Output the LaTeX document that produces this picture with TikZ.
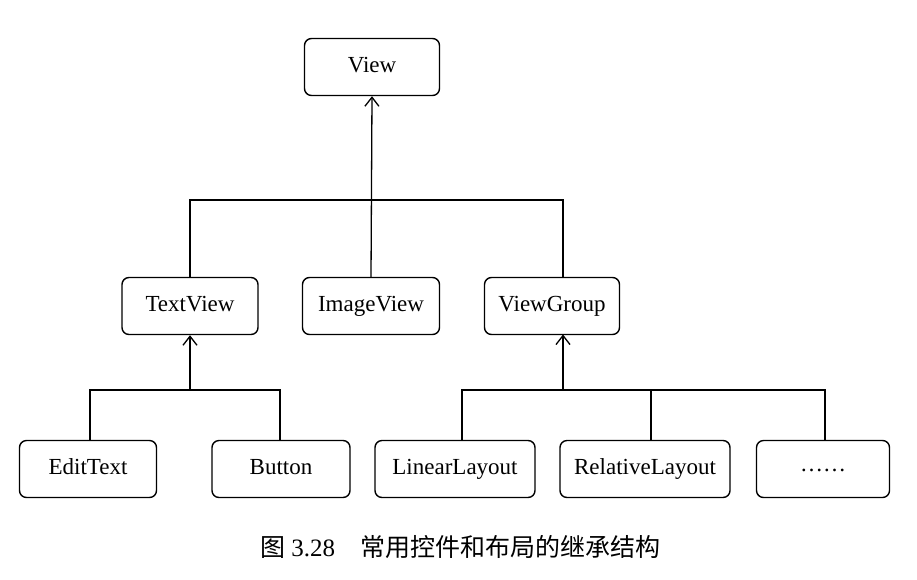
\documentclass[tikz,border=0pt]{standalone}
\usepackage{fontspec}
\setmainfont{Liberation Serif}
\newfontfamily\cjk{Noto Sans CJK SC}
\usetikzlibrary{arrows.meta}
\begin{document}
\begin{tikzpicture}[x=1pt,y=-1pt,
  cls/.style={draw,line width=1.4pt,rounded corners=7pt,minimum height=57pt,text height=16pt,text depth=5pt,inner xsep=2pt,font=\fontsize{23}{27}\selectfont},
  conn/.style={line width=1.3pt},
  up/.style={conn,-{Straight Barb[length=9pt,width=14pt,line width=1.3pt]}}]
\useasboundingbox (0,0) rectangle (917,579);
\node[cls,minimum width=135pt] (view) at (372,67) {View};
\node[cls,minimum width=136pt] (tv) at (190,306) {TextView};
\node[cls,minimum width=137pt] (iv) at (371,306) {ImageView};
\node[cls,minimum width=135pt] (vg) at (552,306) {ViewGroup};
\node[cls,minimum width=137pt] (et) at (88,469) {EditText};
\node[cls,minimum width=138pt] (bt) at (281,469) {Button};
\node[cls,minimum width=160pt] (ll) at (455,469) {LinearLayout};
\node[cls,minimum width=170pt] (rl) at (645,469) {RelativeLayout};
\node[cls,minimum width=133pt] (dd) at (823,469) {\raisebox{3pt}{\ldots\ldots}};
\node[font=\fontsize{25}{29}\selectfont] (cap) at (460,547) {{\cjk 图} 3.28\quad {\cjk 常用控件和布局的继承结构}};
\coordinate (b1) at (190,200);
\coordinate (b2) at (563,200);
\draw[conn] (tv.north) -- (b1) -- (b2) -- (b2 |- vg.north);
\draw[up] (iv.north) -- (view.south);
\coordinate (c1) at (90,390);
\coordinate (c2) at (280,390);
\draw[conn] (et.north -| c1) -- (c1) -- (c2) -- (bt.north -| c2);
\draw[up] (190,390) -- (tv.south);
\coordinate (d1) at (462,390);
\coordinate (d2) at (825,390);
\draw[conn] (ll.north -| d1) -- (d1) -- (d2) -- (dd.north -| d2);
\draw[conn] (651,390) -- (651,440.5);
\draw[up] (563,390) -- (563,334.5);
\end{tikzpicture}
\end{document}
